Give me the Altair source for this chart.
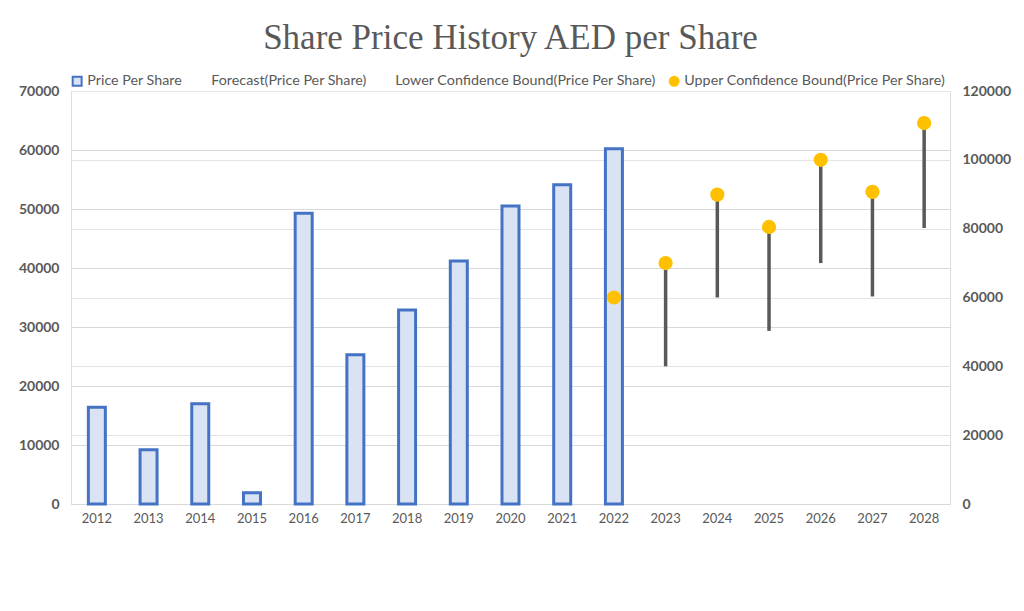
import altair as alt
import pandas as pd

# ---- data ----
years_hist = ["2012", "2013", "2014", "2015", "2016", "2017", "2018", "2019", "2020", "2021", "2022"]
price = [16400, 9200, 17000, 1900, 49300, 25300, 32900, 41200, 50500, 54100, 60200]

years_fc = ["2022", "2023", "2024", "2025", "2026", "2027", "2028"]
lower = [60000, 40000, 60000, 50300, 70000, 60300, 80200]
upper = [60000, 70000, 89900, 80500, 100000, 90700, 110700]

all_years = [str(y) for y in range(2012, 2029)]
series_names = [
    "Price Per Share",
    "Forecast(Price Per Share)",
    "Lower Confidence Bound(Price Per Share)",
    "Upper Confidence Bound(Price Per Share)",
]

BLUE = "#4472C4"
LIGHT = "#DAE3F3"
GOLD = "#FFC000"
GREY = "#595959"
FONT = "Lato"

hist = pd.DataFrame({"year": years_hist, "value": price, "series": series_names[0]})
fc = pd.DataFrame({"year": years_fc, "lower": lower, "upper": upper, "series": series_names[3]})

x_enc = alt.X("year:N", scale=alt.Scale(domain=all_years, paddingInner=0.6, paddingOuter=0.3),
              axis=alt.Axis(title=None, labelAngle=0, ticks=False, domainColor="#D9D9D9",
                            labelColor=GREY, labelFont=FONT, labelFontSize=13, labelPadding=8))

fill_scale = alt.Scale(domain=series_names, range=[LIGHT, "transparent", "transparent", GOLD])
stroke_scale = alt.Scale(domain=series_names, range=[BLUE, "transparent", "transparent", GOLD])
shape_scale = alt.Scale(domain=series_names, range=["square", "circle", "circle", "circle"])

legend = alt.Legend(title=None, orient="none", legendX=-1, legendY=-17, direction="horizontal",
                    columns=4, columnPadding=9, labelFont=FONT, labelFontSize=14.3, labelLimit=0,
                    labelColor=GREY, symbolSize=80, symbolStrokeWidth=2, labelOffset=3,
                    symbolOpacity=1)

bars = alt.Chart(hist).mark_bar(size=17, strokeWidth=3).encode(
    x=x_enc,
    y=alt.Y("value:Q", scale=alt.Scale(domain=[0, 70000], nice=False),
            axis=alt.Axis(title=None, values=list(range(0, 70001, 10000)), ticks=False, domain=False,
                          grid=True, gridColor="#D9D9D9", labelColor=GREY, labelFont=FONT,
                          labelFontSize=14, labelFontWeight="bold", labelPadding=12, format="d")),
    fill=alt.Fill("series:N", scale=fill_scale, legend=legend),
    stroke=alt.Stroke("series:N", scale=stroke_scale, legend=legend),
)

right_axis = alt.Axis(title=None, orient="right", values=list(range(0, 120001, 20000)), ticks=False,
                      domain=False, grid=True, gridColor="#E4E4E4", labelColor=GREY, labelFont=FONT,
                      labelFontSize=14, labelFontWeight="bold", labelPadding=12, format="d")
y_right = alt.Scale(domain=[0, 120000], nice=False)

rules = alt.Chart(fc).mark_rule(color=GREY, strokeWidth=3.5).encode(
    x=x_enc,
    y=alt.Y("lower:Q", scale=y_right, axis=right_axis),
    y2="upper:Q",
)

points = alt.Chart(fc).mark_point(filled=True, size=150, opacity=1).encode(
    x=x_enc,
    y=alt.Y("upper:Q", scale=y_right, axis=right_axis),
    fill=alt.Fill("series:N", scale=fill_scale, legend=legend),
    stroke=alt.Stroke("series:N", scale=stroke_scale, legend=legend),
    shape=alt.Shape("series:N", scale=shape_scale, legend=legend),
)

chart = alt.layer(bars, alt.layer(rules, points)).resolve_scale(y="independent").properties(
    width=879, height=413,
    title=alt.Title("Share Price History AED per Share", font="Liberation Serif", fontSize=35,
                    fontWeight="normal", color=GREY, anchor="middle", offset=18),
    autosize=alt.AutoSizeParams(type="none"),
    padding={"left": 63, "top": 83, "right": 66, "bottom": 99},
).configure_view(stroke=None).configure(background="white")

chart.save("out.html", embed_options={"renderer": "svg", "actions": False})
